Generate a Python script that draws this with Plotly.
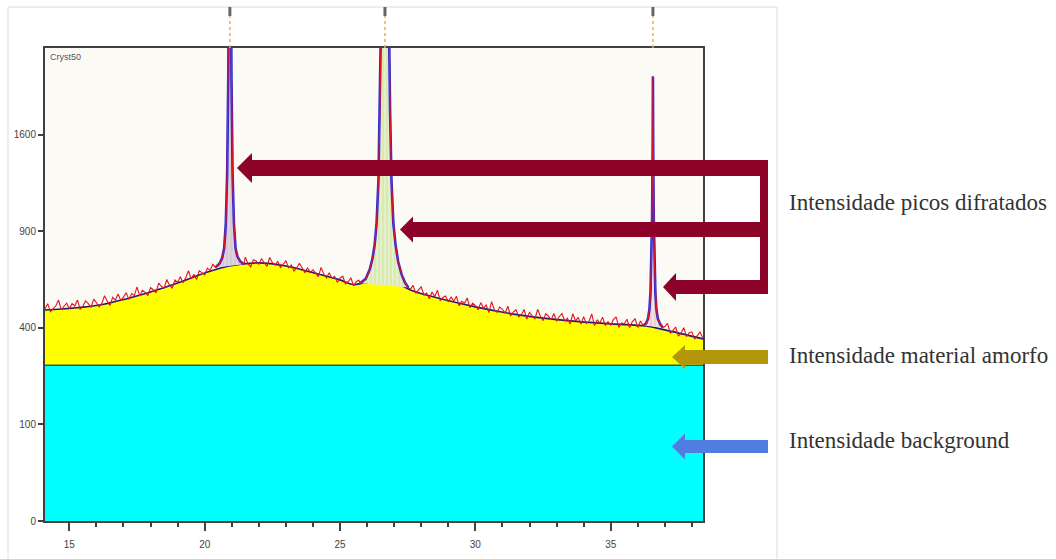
import numpy as np
import plotly.graph_objects as go

# ---- diffraction pattern data (2-theta in degrees, intensity in counts) ----
two_theta_start = 14.1
two_theta_step = 0.1
observed_counts = [
    483, 507, 470, 484, 497, 524, 479, 495, 509,
    484, 507, 496, 524, 480, 496, 520, 507, 489, 528,
    512, 492, 508, 545, 518, 499, 537, 523, 553, 522,
    538, 559, 526, 555, 545, 588, 543, 571, 561, 546,
    584, 574, 559, 607, 591, 582, 626, 596, 583, 623,
    611, 640, 609, 635, 673, 628, 654, 626, 673, 662,
    650, 686, 673, 707, 663, 692, 688, 718, 687, 714,
    706, 689, 734, 713, 701, 747, 711, 693, 732, 726,
    707, 738, 716, 695, 745, 716, 702, 724, 689, 706,
    726, 688, 704, 671, 687, 713, 684, 662, 688, 662,
    677, 660, 641, 690, 653, 634, 661, 633, 643, 611,
    633, 643, 604, 614, 635, 593, 616, 622, 640, 630,
    632, 650, 690, 740, 800, 950, 1200, 1500, 1300, 960,
    820, 720, 680, 650, 620, 600, 577, 596, 556, 573,
    588, 548, 558, 530, 563, 541, 571, 521, 536, 543,
    515, 539, 518, 542, 497, 518, 509, 534, 488, 509,
    498, 479, 512, 486, 500, 466, 516, 480, 467, 491,
    481, 464, 495, 451, 468, 479, 447, 457, 480, 438,
    467, 452, 438, 481, 451, 431, 461, 450, 434, 462,
    428, 449, 462, 429, 441, 416, 461, 430, 445, 416,
    448, 418, 429, 460, 410, 434, 421, 446, 410, 426,
    412, 435, 447, 402, 421, 416, 437, 402, 427, 439,
    402, 429, 423, 440, 700, 1500, 900, 480, 430, 415,
    406, 419, 378, 390, 404, 367, 379, 401, 365, 380,
    384, 355, 370, 383, 360,
]

# amorphous hump (smooth contribution above the background)
amorph_theta = [14.1, 16.1, 18.0, 19.1, 20.0, 20.9, 22.0, 23.0, 23.9, 25.0, 25.5,
                25.9, 27.2, 27.6, 28.3, 30.0, 31.6, 33.5, 35.0, 36.3, 37.0, 38.41]
amorph_counts = [478, 501, 563, 613, 660, 698, 715, 698, 666, 624, 600,
                 608, 598, 573, 544, 492, 456, 430, 417, 408, 392, 356]

# flat background level
background_counts = 260

# fitted crystalline peaks
peak1_theta = [20.40, 20.55, 20.65, 20.72, 20.78, 20.83, 20.87, 20.90, 20.93,
               20.96, 20.99, 21.03, 21.08, 21.14, 21.21, 21.32, 21.45]
peak1_counts = [690, 712, 745, 800, 950, 1300, 2100, 3500, 5000,
                3500, 2100, 1300, 950, 800, 750, 722, 708]
peak2_theta = [25.74, 25.95, 26.10, 26.20, 26.28, 26.35, 26.42, 26.47, 26.52, 26.58, 26.66,
               26.74, 26.80, 26.85, 26.90, 26.97, 27.05, 27.15, 27.28, 27.40, 27.52]
peak2_counts = [606, 630, 680, 740, 820, 950, 1250, 1800, 2700, 4500, 6000,
                4500, 2700, 1800, 1250, 950, 820, 720, 650, 610, 585]
peak3_theta = [36.20, 36.30, 36.38, 36.43, 36.47, 36.50, 36.53, 36.55, 36.56,
               36.57, 36.59, 36.62, 36.65, 36.69, 36.74, 36.82, 36.92]
peak3_counts = [410, 418, 440, 480, 560, 700, 1000, 1500, 2120,
                1500, 1000, 700, 560, 480, 440, 418, 402]
peak_positions = [20.93, 26.66, 36.56]

y_tick_counts = [0, 100, 400, 900, 1600]
x_range = [14.10, 38.41]
y_top_counts = 2401

labels = ["Intensidade picos difratados",
          "Intensidade material amorfo",
          "Intensidade background"]

# ---- helpers ----
def sq(v):
    return np.sqrt(np.asarray(v, dtype=float))

grid = np.round(two_theta_start + two_theta_step * np.arange(len(observed_counts)), 2)
peaks = [(peak1_theta, peak1_counts), (peak2_theta, peak2_counts), (peak3_theta, peak3_counts)]
windows = [(min(t), max(t)) for t, _ in peaks]

obs = [(x, c) for x, c in zip(grid, observed_counts)
       if not any(lo <= x <= hi for lo, hi in windows)]
for t, c in peaks:
    obs += list(zip(t, c))
obs.sort()
obs_x = [p[0] for p in obs]
obs_y = [p[1] for p in obs]

# plot-area pixel frame, used to place decorations in paper coordinates
L, R, T, B = 45, 703, 48, 521
W, H = 1056, 559

def px(x):
    return (x - L) / (R - L)

def py(y):
    return (B - y) / (B - T)

fig = go.Figure()

# background (cyan)
fig.add_trace(go.Scatter(
    x=[amorph_theta[0], amorph_theta[-1]], y=sq([background_counts] * 2),
    mode="lines", fill="tozeroy", fillcolor="#00ffff",
    line=dict(color="#4b5a2a", width=1.5), hoverinfo="skip"))

# amorphous contribution (yellow)
fig.add_trace(go.Scatter(
    x=amorph_theta, y=sq(amorph_counts), mode="lines", fill="tonexty",
    fillcolor="#ffff00", line=dict(color="#1c1c7a", width=1.6, shape="spline"),
    hoverinfo="skip"))

# crystalline peak areas (hatched)
peak_fills = [("#d9d4ec", "#e8a860"), ("#dff2cf", "#e9c24a"), ("#eee0e4", "#e8a860")]
peak_edges = ["#7f7fd8", "#2fb52f", "#7f7fd8"]
for (t, c), (bg, fg), ec in zip(peaks, peak_fills, peak_edges):
    fig.add_trace(go.Scatter(
        x=t, y=sq(c), mode="lines", fill="toself", fillcolor=bg,
        fillpattern=dict(shape="|", bgcolor=bg, fgcolor=fg, size=4, solidity=0.25),
        line=dict(color=ec, width=1), hoverinfo="skip"))

# fitted peak profiles
for t, c in peaks:
    fig.add_trace(go.Scatter(
        x=t, y=sq(c), mode="lines", line=dict(color="#2b2bd6", width=2.6),
        hoverinfo="skip"))

# observed intensities
fig.add_trace(go.Scatter(
    x=obs_x, y=sq(obs_y), mode="lines", line=dict(color="#e4141e", width=1.1),
    hoverinfo="skip"))

shapes = []

# outer light frame
shapes.append(dict(type="rect", xref="paper", yref="paper",
                   x0=px(8), x1=px(777), y0=py(W), y1=py(7),
                   line=dict(color="#dcdcdc", width=1), layer="below"))

# peak position markers above the plot
for pos in peak_positions:
    shapes.append(dict(type="line", xref="x", yref="paper", x0=pos, x1=pos,
                       y0=1.0, y1=py(16), line=dict(color="#f0b040", width=1.5, dash="dot")))
    shapes.append(dict(type="line", xref="x", yref="paper", x0=pos, x1=pos,
                       y0=py(16), y1=py(7), line=dict(color="#666666", width=3)))

def arrow_path(tip, yc, hl, hh, st, xr):
    pts = [(tip, yc), (tip + hl, yc - hh), (tip + hl, yc - st), (xr, yc - st),
           (xr, yc + st), (tip + hl, yc + st), (tip + hl, yc + hh)]
    return "M " + " L ".join(f"{px(a):.5f},{py(b):.5f}" for a, b in pts) + " Z"

red = "#8c0327"
for tip, yc, hl, hh, st in [(237, 168, 15, 15, 8), (400, 229.5, 13, 13, 7.5),
                            (663, 287, 13, 14, 7)]:
    shapes.append(dict(type="path", xref="paper", yref="paper",
                       path=arrow_path(tip, yc, hl, hh, st, 768),
                       fillcolor=red, line=dict(width=0)))
shapes.append(dict(type="rect", xref="paper", yref="paper",
                   x0=px(760), x1=px(768), y0=py(294), y1=py(160),
                   fillcolor=red, line=dict(width=0)))
shapes.append(dict(type="path", xref="paper", yref="paper",
                   path=arrow_path(672, 357, 13, 12, 7, 768),
                   fillcolor="#b3960a", line=dict(width=0)))
shapes.append(dict(type="path", xref="paper", yref="paper",
                   path=arrow_path(672, 446.5, 13, 13, 6.5, 768),
                   fillcolor="#4f7de0", line=dict(width=0)))

annotations = [dict(text="Cryst50", xref="paper", yref="paper", x=px(48), y=py(57),
                    xanchor="left", yanchor="middle", showarrow=False,
                    font=dict(family="Arial", size=9, color="#555555"))]
for text, ypix in zip(labels, [202, 355, 440]):
    annotations.append(dict(text=text, xref="paper", yref="paper", x=px(787), y=py(ypix),
                            xanchor="left", yanchor="middle", showarrow=False,
                            font=dict(family="Liberation Serif", size=23, color="#333333")))

axis_color = "#404040"
fig.update_layout(
    width=W, height=H,
    margin=dict(l=L, r=W - R, t=T, b=H - B, pad=0),
    paper_bgcolor="white", plot_bgcolor="#fbfaf5",
    showlegend=False,
    shapes=shapes, annotations=annotations,
    xaxis=dict(range=x_range, tick0=15, dtick=5, ticks="outside", ticklen=8,
               tickwidth=1.5, tickcolor=axis_color, showgrid=False, zeroline=False,
               showline=True, linecolor=axis_color, linewidth=2, mirror=True,
               ticklabelstandoff=5, automargin=False,
               tickfont=dict(family="Arial", size=10, color="#444444"),
               minor=dict(dtick=1, ticks="outside", ticklen=4, tickwidth=1.5,
                          tickcolor=axis_color, showgrid=False)),
    yaxis=dict(range=[0, float(np.sqrt(y_top_counts))], tickmode="array",
               tickvals=list(sq(y_tick_counts)), ticktext=[str(v) for v in y_tick_counts],
               ticks="outside", ticklen=5, tickwidth=1.5, tickcolor=axis_color,
               showgrid=False, zeroline=False, showline=True, linecolor=axis_color,
               linewidth=2, mirror=True, automargin=False,
               tickfont=dict(family="Arial", size=10, color="#444444")),
)

fig.write_html("out.html")
